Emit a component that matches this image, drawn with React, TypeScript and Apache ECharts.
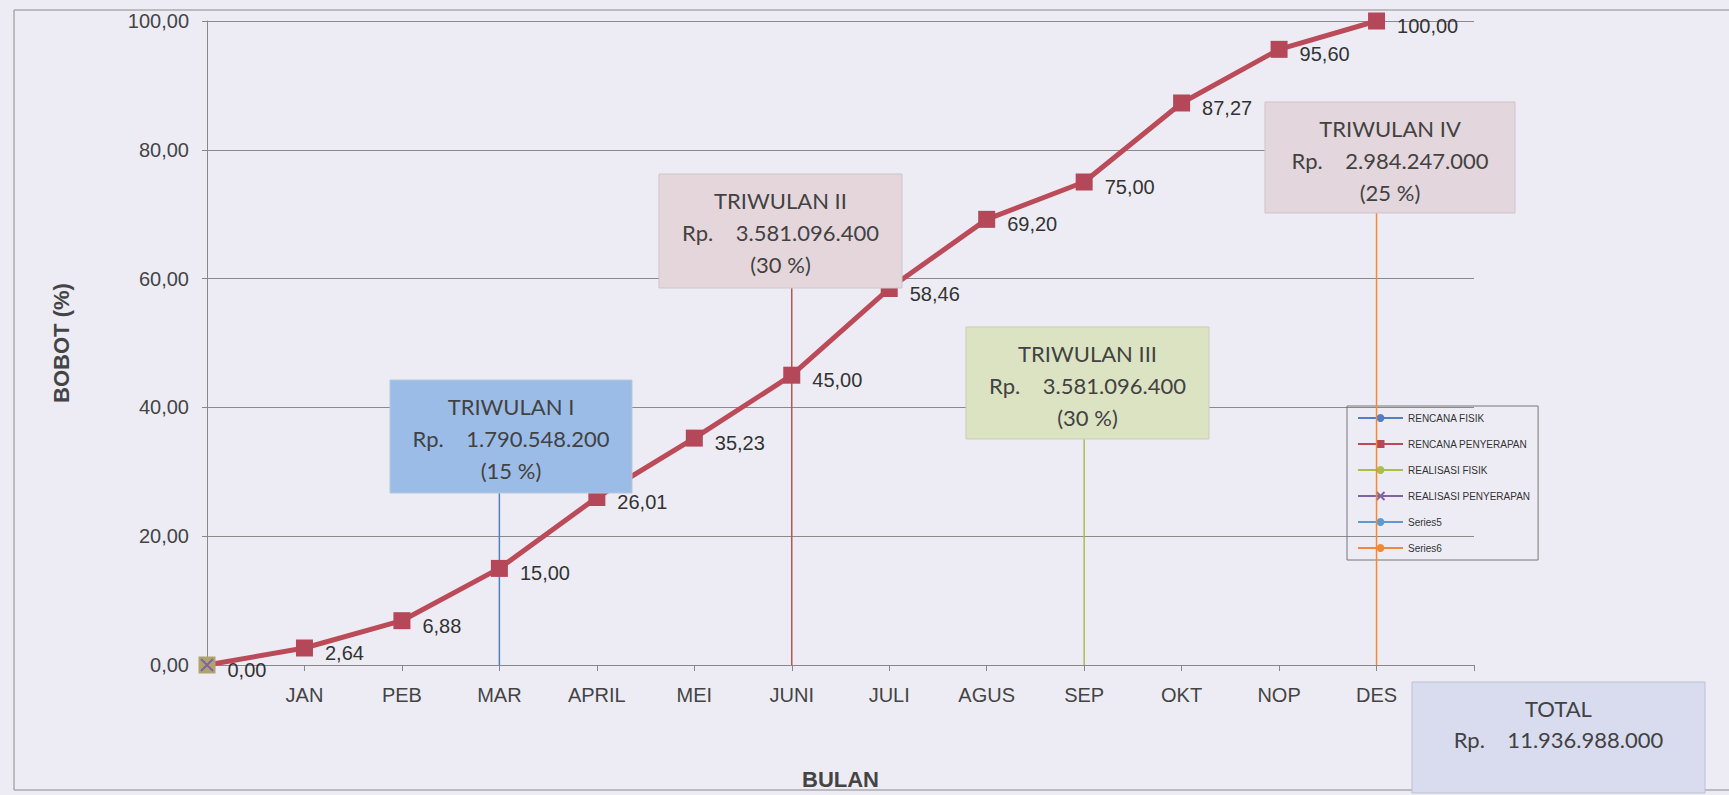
import React, { useEffect, useRef } from "react";
import * as echarts from "echarts";

const categories = ["", "JAN", "PEB", "MAR", "APRIL", "MEI", "JUNI", "JULI", "AGUS", "SEP", "OKT", "NOP", "DES", ""];
const rencanaPenyerapan = [0, 2.64, 6.88, 15.0, 26.01, 35.23, 45.0, 58.46, 69.2, 75.0, 87.27, 95.6, 100.0];
const legendNames = ["RENCANA FISIK", "RENCANA PENYERAPAN", "REALISASI FISIK", "REALISASI PENYERAPAN", "Series5", "Series6"];
const quarterLineCats = ["MAR", "JUNI", "SEP", "DES"];
const quarterLineTops = [35, 65, 40, 80];
const quarterTitles = ["TRIWULAN I", "TRIWULAN II", "TRIWULAN III", "TRIWULAN IV"];
const quarterAmounts = ["Rp.    1.790.548.200", "Rp.    3.581.096.400", "Rp.    3.581.096.400", "Rp.    2.984.247.000"];
const quarterPercents = ["(15 %)", "(30 %)", "(30 %)", "(25 %)"];
const totalTitle = "TOTAL";
const totalAmount = "Rp.    11.936.988.000";
const yMin = 0;
const yMax = 100;
const yInterval = 20;

const fmt = (v: number) => v.toFixed(2).replace(".", ",");

export default function App() {
  const ref = useRef<HTMLDivElement>(null);
  useEffect(() => {
    if (!ref.current) return;
    const chart = echarts.init(ref.current, undefined, { renderer: "svg" });
    const boxFont = "Lato, 'Open Sans', sans-serif";
    const boxes = [
      { x: 390, y: 380, w: 242, h: 113, fill: "#9CBCE8", stroke: "#B8C8DC" },
      { x: 659, y: 174, w: 243, h: 114, fill: "#E5D6DC", stroke: "#CFC3CA" },
      { x: 966, y: 327, w: 243, h: 112, fill: "#DCE3C2", stroke: "#C9CFB5" },
      { x: 1265, y: 102, w: 250, h: 111, fill: "#E3D6DC", stroke: "#CFC3CA" },
    ];
    const graphics: any[] = [
      {
        type: "rect",
        z: 0,
        shape: { x: 14, y: 10, width: 1740, height: 780 },
        style: { fill: "none", stroke: "#8a8a8a", lineWidth: 1 },
      },
    ];
    boxes.forEach((b, i) => {
      graphics.push({
        type: "rect",
        z: 100,
        shape: { x: b.x, y: b.y, width: b.w, height: b.h },
        style: { fill: b.fill, stroke: b.stroke, lineWidth: 1 },
      });
      [quarterTitles[i], quarterAmounts[i], quarterPercents[i]].forEach((t, j) => {
        graphics.push({
          type: "text",
          z: 101,
          x: b.x + b.w / 2,
          y: b.y + 26 + j * 32,
          style: {
            text: t,
            fill: "#424242",
            fontSize: 22,
            fontFamily: boxFont,
            align: "center",
            verticalAlign: "middle",
          },
        });
      });
    });
    graphics.push({
      type: "rect",
      z: 100,
      shape: { x: 1412, y: 682, width: 293, height: 111 },
      style: { fill: "#D9DBEE", stroke: "#BDBFD2", lineWidth: 1 },
    });
    [totalTitle, totalAmount].forEach((t, j) => {
      graphics.push({
        type: "text",
        z: 101,
        x: 1412 + 293 / 2,
        y: 708 + j * 31,
        style: {
          text: t,
          fill: "#424242",
          fontSize: 22,
          fontFamily: boxFont,
          align: "center",
          verticalAlign: "middle",
        },
      });
    });

    const lineColors = ["#4F7FC6", "#C0504D", "#A8BF4A", "#F08A3A"];
    const lineNames = ["RENCANA FISIK", "TW2", "REALISASI FISIK", "Series6"];
    const vSeries = quarterLineCats.map((c, i) => ({
      name: lineNames[i],
      type: "line",
      symbol: "circle",
      symbolSize: 6,
      showSymbol: false,
      z: 5,
      lineStyle: { color: lineColors[i], width: 1.5 },
      itemStyle: { color: lineColors[i] },
      data: [
        [c, 0],
        [c, quarterLineTops[i]],
      ],
    }));

    const mainData = rencanaPenyerapan.map((v, i) =>
      i === 0 ? { value: v, itemStyle: { color: "#ADA46E" } } : v
    );

    chart.setOption({
      animation: false,
      backgroundColor: "#EDECF5",
      textStyle: { fontFamily: "'Liberation Sans', Arial, sans-serif" },
      graphic: graphics,
      legend: {
        data: legendNames,
        orient: "vertical",
        left: 1347,
        top: 406,
        itemWidth: 45,
        itemHeight: 10,
        itemGap: 14,
        padding: [6, 8, 6, 10],
        borderColor: "#777",
        borderWidth: 1,
        backgroundColor: "transparent",
        textStyle: { fontSize: 10, color: "#333", lineHeight: 12, fontFamily: "'Liberation Sans', Arial, sans-serif" },
      },
      grid: { left: 207, right: 255, top: 21, bottom: 128, containLabel: false },
      xAxis: {
        type: "category",
        boundaryGap: false,
        data: categories,
        name: "BULAN",
        nameLocation: "middle",
        nameGap: 103,
        nameTextStyle: { fontSize: 22, fontWeight: "bold", color: "#444" },
        axisLine: { lineStyle: { color: "#888", width: 1 } },
        axisTick: { show: true, length: 6, lineStyle: { color: "#888" } },
        axisLabel: { fontSize: 20, color: "#444", margin: 20, interval: 0 },
      },
      yAxis: {
        type: "value",
        min: yMin,
        max: yMax,
        interval: yInterval,
        name: "BOBOT (%)",
        nameLocation: "middle",
        nameGap: 135,
        nameTextStyle: { fontSize: 22, fontWeight: "bold", color: "#444" },
        axisLine: { show: true, lineStyle: { color: "#888", width: 1 } },
        axisTick: { show: true, length: 5, lineStyle: { color: "#888" } },
        splitLine: { show: true, lineStyle: { color: "#8a8a8a", width: 1 } },
        axisLabel: { fontSize: 20, color: "#444", margin: 18, formatter: (v: number) => fmt(v) },
      },
      series: [
        ...vSeries,
        {
          name: "RENCANA PENYERAPAN",
          type: "line",
          z: 6,
          data: mainData,
          symbol: "rect",
          symbolSize: 17,
          lineStyle: { color: "#BC4B5A", width: 5 },
          itemStyle: { color: "#B44858" },
          label: {
            show: true,
            position: "right",
            distance: 12,
            offset: [0, 5],
            fontSize: 20,
            color: "#333",
            formatter: (p: any) => fmt(p.value),
          },
        },
        {
          name: "REALISASI PENYERAPAN",
          type: "line",
          z: 7,
          symbol: "path://M0 0L10 10M10 0L0 10",
          symbolSize: 12,
          lineStyle: { color: "#8064A2", width: 1.5 },
          itemStyle: { color: "#8064A2", borderColor: "#8064A2", borderWidth: 2 },
          data: [0],
        },
        {
          name: "Series5",
          type: "line",
          z: 5,
          symbol: "circle",
          symbolSize: 4,
          lineStyle: { color: "#5B9BD5", width: 1.5 },
          itemStyle: { color: "#5B9BD5" },
          data: [0],
        },
      ],
    });
    return () => chart.dispose();
  }, []);
  return (
    <div
      ref={ref}
      style={{ position: "absolute", left: 0, top: 0, width: 1729, height: 795, background: "#EDECF5" }}
    />
  );
}
